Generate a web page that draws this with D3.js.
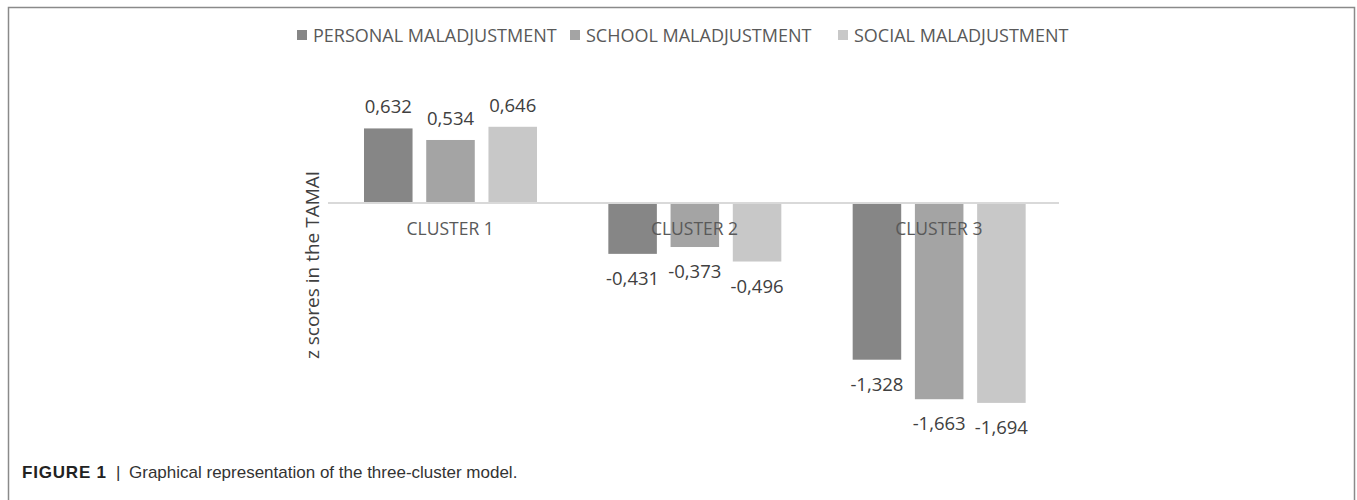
<!DOCTYPE html>
<html><head><meta charset="utf-8">
<script src="https://cdn.jsdelivr.net/npm/d3@7"></script>
<style>body{margin:0;background:#fff}</style>
</head><body>
<svg id="chart" width="1357" height="500"></svg>
<script>
const clusters = ["CLUSTER 1", "CLUSTER 2", "CLUSTER 3"];
const seriesNames = ["PERSONAL MALADJUSTMENT", "SCHOOL MALADJUSTMENT", "SOCIAL MALADJUSTMENT"];
const personal = [0.632, -0.431, -1.328];
const school = [0.534, -0.373, -1.663];
const social = [0.646, -0.496, -1.694];
const seriesColors = ["#868686", "#a4a4a4", "#c8c8c8"];
const axisTitle = "z scores in the TAMAI";
const captionBold = "FIGURE 1";
const captionText = "Graphical representation of the three-cluster model.";

const values = [personal, school, social];
const svg = d3.select("#chart");
const fontChart = "'Open Sans', 'DejaVu Sans', sans-serif";

// frame
svg.append("path").attr("d", "M8.5,500 L8.5,7.5 L1354.5,7.5 L1354.5,500")
  .attr("fill", "none").attr("stroke", "#8a8a8a").attr("stroke-width", 1.5);

const x = d3.scaleBand().domain(clusters).range([328, 1061]).padding(0);
const xInner = d3.scaleBand().domain(d3.range(3)).range([36, 209]).paddingInner(0.22).paddingOuter(0);
const y = d3.scaleLinear().domain([-2, 1]).range([439, 85]);

const data = [];
clusters.forEach((c, ci) => values.forEach((arr, si) => data.push({c, si, v: arr[ci]})));

const fmt = v => (v < 0 ? "-" : "") + Math.abs(v).toFixed(3).replace(".", ",");

svg.append("g").selectAll("rect").data(data).join("rect")
  .attr("x", d => x(d.c) + xInner(d.si))
  .attr("width", xInner.bandwidth())
  .attr("y", d => y(Math.max(0, d.v)))
  .attr("height", d => Math.abs(y(d.v) - y(0)))
  .attr("fill", d => seriesColors[d.si]);

// zero axis line
svg.append("line").attr("x1", x.range()[0]).attr("x2", x.range()[1] - 2)
  .attr("y1", y(0)).attr("y2", y(0)).attr("stroke", "#d9d9d9").attr("stroke-width", 2);

// category labels
svg.append("g").selectAll("text").data(clusters).join("text")
  .attr("x", d => x(d) + x.bandwidth() / 2).attr("y", y(0) + 32)
  .attr("text-anchor", "middle").attr("font-family", fontChart).attr("font-size", 17.5)
  .attr("fill", "#595959").text(d => d);

// data labels
svg.append("g").selectAll("text").data(data).join("text")
  .attr("x", d => x(d.c) + xInner(d.si) + xInner.bandwidth() / 2)
  .attr("y", d => d.v >= 0 ? y(d.v) - 15 : y(d.v) + 31)
  .attr("text-anchor", "middle").attr("font-family", fontChart).attr("font-size", 18.5)
  .attr("fill", "#404040").text(d => fmt(d.v));

// axis title
svg.append("text").attr("transform", "translate(319,265) rotate(-90)")
  .attr("text-anchor", "middle").attr("font-family", fontChart).attr("font-size", 19)
  .attr("fill", "#404040").text(axisTitle);

// legend
const legendX = [297, 570, 838];
const lg = svg.append("g").selectAll("g").data(seriesNames).join("g")
  .attr("transform", (d, i) => `translate(${legendX[i]},35)`);
lg.append("rect").attr("x", 0).attr("y", -5).attr("width", 10).attr("height", 10)
  .attr("fill", (d, i) => seriesColors[i]);
lg.append("text").attr("x", 16).attr("y", 6.5).attr("font-family", fontChart).attr("font-size", 18)
  .attr("fill", "#595959").text(d => d);

// caption
const capFont = "'Liberation Sans', Arial, sans-serif";
svg.append("text").attr("x", 22).attr("y", 478).attr("font-family", capFont)
  .attr("font-size", 17).attr("font-weight", "bold").attr("letter-spacing", 0.8)
  .attr("fill", "#222").text(captionBold);
svg.append("text").attr("x", 116).attr("y", 478).attr("font-family", capFont)
  .attr("font-size", 17).attr("fill", "#333").text("|");
svg.append("text").attr("x", 129).attr("y", 478).attr("font-family", capFont)
  .attr("font-size", 17).attr("fill", "#333").text(captionText);
</script>
</body></html>
